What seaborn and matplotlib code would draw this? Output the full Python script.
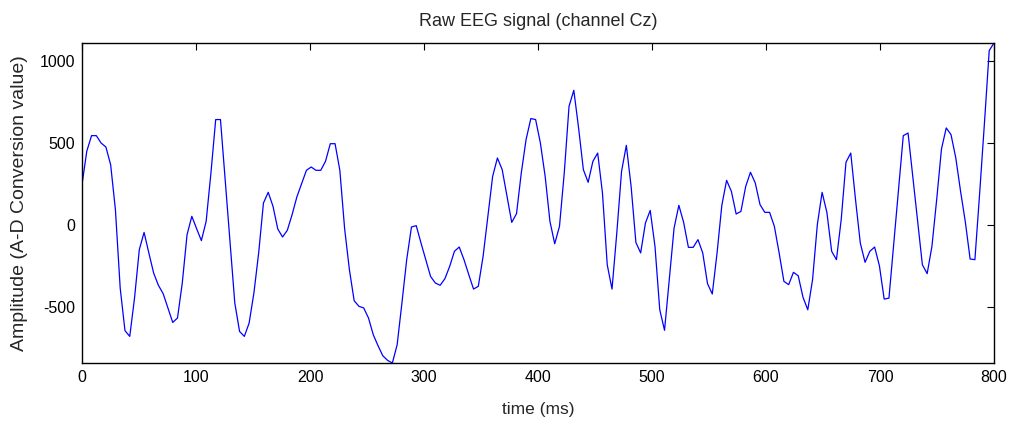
import numpy as np
import pandas as pd
import matplotlib
matplotlib.use("Agg")
import matplotlib.pyplot as plt
import seaborn as sns

# EEG amplitude samples (A-D conversion value), channel Cz
seg_0_200ms = [248, 451, 546, 546, 501, 477, 369, 95, -382, -641, -676, -443, -148, -43,
               -168, -290, -365, -416, -503, -591, -564, -351, -57, 55, -20, -93, 24, 318,
               644, 644, 274, -101, -473, -646, -676, -595, -412, -168, 136, 201, 116, -22,
               -71, -30, 65, 173, 254, 335]
seg_200_400ms = [355, 335, 335, 390, 497, 497, 335, -20, -270, -459, -493, -503, -564, -666,
                 -733, -794, -822, -838, -727, -473, -209, -10, -2, -108, -209, -311, -351,
                 -365, -325, -250, -158, -132, -209, -300, -388, -371, -189, 55, 298, 410,
                 339, 177, 18, 71, 319, 522, 650, 644]
seg_400_600ms = [501, 298, 24, -112, -6, 319, 725, 822, 593, 339, 262, 390, 440, 197, -240,
                 -388, -47, 329, 487, 237, -104, -168, 14, 91, -128, -514, -639, -331, -16,
                 122, 18, -134, -134, -87, -168, -355, -418, -168, 122, 274, 207, 69, 85, 237,
                 323, 258, 126, 79]
seg_600_800ms = [79, -6, -168, -341, -361, -286, -307, -438, -514, -331, 4, 201, 79, -158,
                 -209, 35, 384, 440, 156, -108, -225, -158, -132, -246, -449, -443, -112, 217,
                 546, 562, 294, 28, -240, -294, -128, 158, 465, 593, 552, 410, 207, 20, -205,
                 -209, 197, 623, 1064, 1110]

amplitude = np.array(seg_0_200ms + seg_200_400ms + seg_400_600ms + seg_600_800ms, dtype=float)
t_start_ms, t_end_ms = 0, 800
time_ms = np.linspace(t_start_ms, t_end_ms, len(amplitude))

x_ticks = [0, 100, 200, 300, 400, 500, 600, 700, 800]
y_ticks = [-500, 0, 500, 1000]

title = "Raw EEG signal (channel Cz)"
xlabel = "time (ms)"
ylabel = "Amplitude (A-D Conversion value)"

df = pd.DataFrame({"time": time_ms, "amp": amplitude})

sns.set_style("white")
plt.rcParams["font.family"] = ["Liberation Sans", "DejaVu Sans"]
plt.rcParams["axes.unicode_minus"] = False

fig = plt.figure(figsize=(10.15, 4.22), dpi=100)
ax = fig.add_axes([82 / 1015, 1 - 363 / 422, (994 - 82) / 1015, (363 - 43) / 422])

sns.lineplot(data=df, x="time", y="amp", ax=ax, color=(0, 0, 1), linewidth=0.9,
             estimator=None, sort=False)

ax.set_xlim(t_start_ms, t_end_ms)
ax.set_ylim(amplitude.min(), amplitude.max())
ax.set_xticks(x_ticks)
ax.set_yticks(y_ticks)
ax.tick_params(direction="in", top=True, right=True, length=5, width=0.8,
               labelsize=11.5, colors="black", pad=5)
for s in ax.spines.values():
    s.set_color("black")
    s.set_linewidth(1.0)
    s.set_visible(True)

ax.set_title(title, fontsize=13, pad=12)
ax.set_xlabel(xlabel, fontsize=12.5, labelpad=12)
ax.set_ylabel(ylabel, fontsize=14, labelpad=8)

fig.savefig("out.png", dpi=100)
